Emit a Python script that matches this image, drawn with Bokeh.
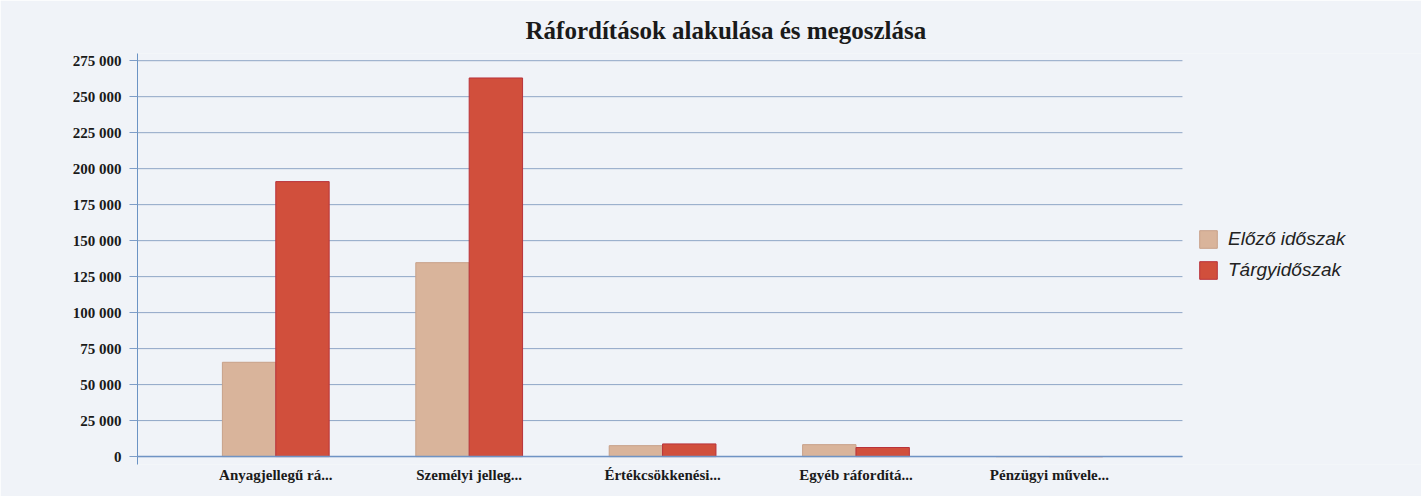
from bokeh.plotting import figure
from bokeh.models import ColumnDataSource, Range1d, Legend, LegendItem, CustomJSTickFormatter, FixedTicker
from bokeh.transform import dodge
from bokeh.embed import file_html
from bokeh.resources import INLINE

categories = ["Anyagjellegű rá...", "Személyi jelleg...", "Értékcsökkenési...", "Egyéb ráfordítá...", "Pénzügyi művele..."]
elozo = [65500, 134700, 7600, 8300, 0]
targy = [191000, 263000, 8800, 6300, 0]
series_names = ["Előző időszak", "Tárgyidőszak"]
y_ticks = [0, 25000, 50000, 75000, 100000, 125000, 150000, 175000, 200000, 225000, 250000, 275000]

idx = list(range(len(categories)))
src = ColumnDataSource(dict(x=idx, cat=categories, elozo=elozo, targy=targy))

# layout constants (category units)
X_START, X_END, GRID_END = -0.715, 5.924, 4.688
BAR_W, OFF = 0.276, 0.138

bg = "#f0f3f8"
p = figure(frame_width=1284, frame_height=411, output_backend="svg", toolbar_location=None,
           x_range=Range1d(X_START, X_END), y_range=Range1d(-5500, 280000),
           background_fill_color=bg, border_fill_color=bg,
           min_border_left=137, min_border_right=0, min_border_top=53, min_border_bottom=32)
p.outline_line_color = None

# horizontal grid lines, limited to the category area
gsrc = ColumnDataSource(dict(y=y_ticks, x0=[X_START] * len(y_ticks), x1=[GRID_END] * len(y_ticks)))
p.segment(x0="x0", x1="x1", y0="y", y1="y", source=gsrc, line_color="#8fa6c6", line_width=1)

r1 = p.vbar(x=dodge("x", -OFF), top="elozo", width=BAR_W, source=src,
            fill_color="#d9b49b", line_color="#c8a189", line_width=1)
r2 = p.vbar(x=dodge("x", OFF), top="targy", width=BAR_W, source=src,
            fill_color="#d14f3c", line_color="#b9323a", line_width=1)

p.segment(x0=[X_START], x1=[GRID_END], y0=[0], y1=[0], line_color="#6f93c4", line_width=1.5)

p.title.text = "Ráfordítások alakulása és megoszlása"
p.title.text_font = "Liberation Serif"
p.title.text_font_size = "25px"
p.title.text_font_style = "bold"
p.title.text_color = "#1a1a1a"
p.title.align = "left"
p.title.offset = 388
p.title.standoff = 20

blue = "#7f9ec8"
p.yaxis.ticker = FixedTicker(ticks=y_ticks)
p.yaxis.formatter = CustomJSTickFormatter(code="return Math.round(tick).toString().replace(/\\B(?=(\\d{3})+(?!\\d))/g, ' ');")
p.yaxis.axis_line_color = "#6b93c4"
p.yaxis.major_tick_line_color = blue
p.yaxis.major_tick_out = 8
p.yaxis.major_tick_in = 0
p.yaxis.minor_tick_line_color = None
p.yaxis.major_label_text_font = "Liberation Serif"
p.yaxis.major_label_text_font_style = "bold"
p.yaxis.major_label_text_font_size = "15px"
p.yaxis.major_label_text_color = "#1a1a1a"
p.yaxis.major_label_standoff = 8

p.xaxis.ticker = FixedTicker(ticks=idx)
p.xaxis.major_label_overrides = {i: c for i, c in zip(idx, categories)}
p.xaxis.axis_line_color = None
p.xaxis.major_tick_line_color = None
p.xaxis.minor_tick_line_color = None
p.xaxis.major_label_text_font = "Liberation Serif"
p.xaxis.major_label_text_font_style = "bold"
p.xaxis.major_label_text_font_size = "15px"
p.xaxis.major_label_text_color = "#1a1a1a"
p.xaxis.major_label_standoff = -4

p.xgrid.grid_line_color = None
p.ygrid.grid_line_color = None

legend = Legend(items=[LegendItem(label=series_names[0], renderers=[r1]),
                       LegendItem(label=series_names[1], renderers=[r2])],
                location=(1060, 183))
legend.label_text_font = "Liberation Sans"
legend.label_text_font_style = "italic"
legend.label_text_font_size = "19px"
legend.label_text_color = "#222222"
legend.glyph_width = 22
legend.glyph_height = 22
legend.label_height = 22
legend.spacing = 9
legend.padding = 0
legend.margin = 0
legend.label_standoff = 9
legend.border_line_color = None
legend.background_fill_alpha = 0
p.add_layout(legend)

open("out.html", "w").write(file_html(p, INLINE))
